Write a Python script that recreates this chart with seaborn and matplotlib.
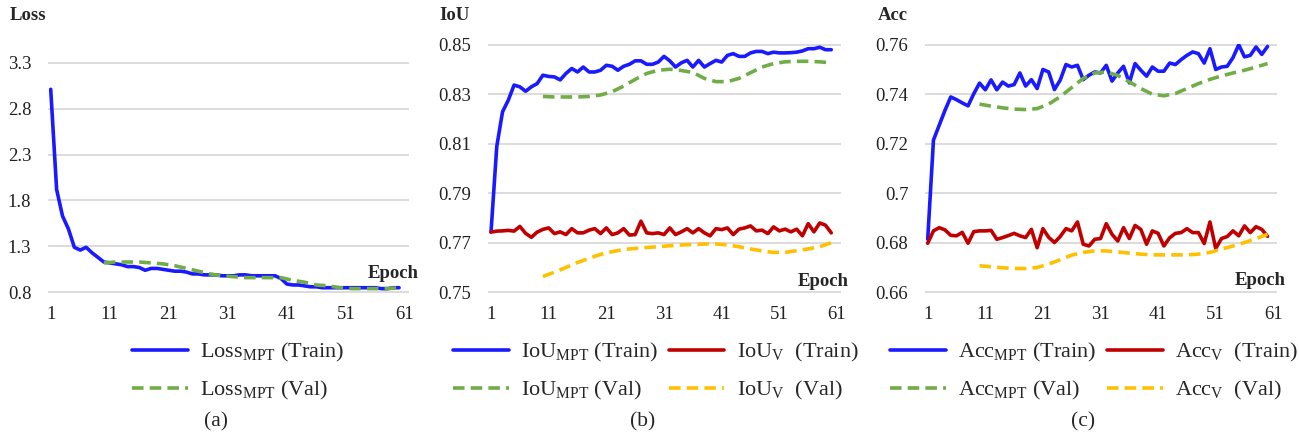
import numpy as np
import pandas as pd
import seaborn as sns
import matplotlib.pyplot as plt
from matplotlib.lines import Line2D

sns.set_style("white")
plt.rcParams["font.family"] = ["Liberation Serif", "DejaVu Serif"]
plt.rcParams["mathtext.fontset"] = "custom"
plt.rcParams["mathtext.rm"] = "Liberation Serif"
plt.rcParams["mathtext.it"] = "Liberation Serif:italic"
plt.rcParams["mathtext.bf"] = "Liberation Serif:bold"

# ---------------- data ----------------
epochs_train = list(range(1, 61))
epochs_val = list(range(10, 61, 2))

loss_mpt_train = [3.01, 1.92, 1.63, 1.49, 1.29, 1.26, 1.29, 1.23, 1.18, 1.13,
                  1.12, 1.11, 1.10, 1.08, 1.08, 1.07, 1.04, 1.06, 1.06, 1.05,
                  1.04, 1.03, 1.03, 1.02, 1.00, 1.00, 0.99, 0.99, 0.99, 0.98,
                  0.98, 0.98, 0.99, 0.99, 0.98, 0.98, 0.98, 0.98, 0.98, 0.95,
                  0.89, 0.88, 0.88, 0.87, 0.86, 0.86, 0.85, 0.85, 0.85, 0.85,
                  0.85, 0.85, 0.85, 0.85, 0.85, 0.85, 0.84, 0.84, 0.85, 0.85]
loss_mpt_val = [1.12, 1.13, 1.13, 1.13, 1.12, 1.11, 1.09, 1.06, 1.03, 1.00,
                0.98, 0.97, 0.96, 0.96, 0.96, 0.96, 0.93, 0.91, 0.88, 0.87,
                0.85, 0.84, 0.84, 0.84, 0.84, 0.85]

iou_mpt_train = [0.7743, 0.8089, 0.8229, 0.8276, 0.8337, 0.8330, 0.8312, 0.8330, 0.8343, 0.8377,
                 0.8372, 0.8370, 0.8358, 0.8384, 0.8404, 0.8390, 0.8410, 0.8390, 0.8390, 0.8397,
                 0.8417, 0.8413, 0.8397, 0.8413, 0.8421, 0.8435, 0.8435, 0.8421, 0.8421, 0.8430,
                 0.8453, 0.8435, 0.8410, 0.8427, 0.8437, 0.8410, 0.8437, 0.8410, 0.8424, 0.8437,
                 0.8430, 0.8457, 0.8464, 0.8453, 0.8453, 0.8467, 0.8473, 0.8473, 0.8464, 0.8470,
                 0.8467, 0.8467, 0.8468, 0.8470, 0.8475, 0.8484, 0.8484, 0.8490, 0.8480, 0.8480]
iou_v_train = [0.7743, 0.7747, 0.7748, 0.7750, 0.7747, 0.7766, 0.7738, 0.7722, 0.7743, 0.7754,
               0.7760, 0.7737, 0.7744, 0.7733, 0.7757, 0.7740, 0.7740, 0.7751, 0.7757, 0.7737,
               0.7760, 0.7733, 0.7740, 0.7757, 0.7731, 0.7733, 0.7787, 0.7740, 0.7737, 0.7740,
               0.7733, 0.7760, 0.7733, 0.7744, 0.7757, 0.7740, 0.7757, 0.7740, 0.7728, 0.7757,
               0.7753, 0.7760, 0.7733, 0.7755, 0.7760, 0.7768, 0.7748, 0.7751, 0.7737, 0.7764,
               0.7748, 0.7755, 0.7744, 0.7755, 0.7728, 0.7777, 0.7744, 0.7780, 0.7771, 0.7740]
iou_mpt_val = [0.8291, 0.8289, 0.8289, 0.8289, 0.8291, 0.8297, 0.8310, 0.8333, 0.8360, 0.8384,
               0.8397, 0.8401, 0.8396, 0.8388, 0.8364, 0.8351, 0.8351, 0.8364, 0.8387, 0.8410,
               0.8424, 0.8431, 0.8433, 0.8433, 0.8431, 0.8427]
iou_v_val = [0.7564, 0.7581, 0.7600, 0.7620, 0.7637, 0.7653, 0.7664, 0.7673, 0.7677, 0.7681,
             0.7684, 0.7688, 0.7691, 0.7693, 0.7695, 0.7695, 0.7691, 0.7684, 0.7675, 0.7667,
             0.7661, 0.7661, 0.7668, 0.7675, 0.7684, 0.7700]

acc_mpt_train = [0.6814, 0.7215, 0.7275, 0.7335, 0.7389, 0.7378, 0.7365, 0.7353, 0.7402, 0.7445,
                 0.7418, 0.7458, 0.7418, 0.7449, 0.7433, 0.7439, 0.7486, 0.7433, 0.7459, 0.7423,
                 0.7500, 0.7490, 0.7419, 0.7457, 0.7520, 0.7510, 0.7517, 0.7459, 0.7477, 0.7490,
                 0.7486, 0.7517, 0.7453, 0.7486, 0.7513, 0.7446, 0.7524, 0.7497, 0.7473, 0.7510,
                 0.7493, 0.7493, 0.7526, 0.7520, 0.7540, 0.7557, 0.7571, 0.7564, 0.7526, 0.7584,
                 0.7500, 0.7510, 0.7513, 0.7548, 0.7600, 0.7551, 0.7557, 0.7591, 0.7561, 0.7593]
acc_v_train = [0.6798, 0.6848, 0.6861, 0.6852, 0.6830, 0.6828, 0.6842, 0.6798, 0.6845, 0.6848,
               0.6848, 0.6850, 0.6814, 0.6821, 0.6829, 0.6838, 0.6828, 0.6821, 0.6854, 0.6780,
               0.6857, 0.6822, 0.6801, 0.6825, 0.6857, 0.6848, 0.6884, 0.6794, 0.6787, 0.6814,
               0.6817, 0.6877, 0.6834, 0.6807, 0.6861, 0.6817, 0.6870, 0.6854, 0.6794, 0.6848,
               0.6838, 0.6787, 0.6820, 0.6838, 0.6841, 0.6857, 0.6841, 0.6841, 0.6797, 0.6884,
               0.6777, 0.6817, 0.6825, 0.6848, 0.6828, 0.6868, 0.6841, 0.6865, 0.6854, 0.6826]
acc_mpt_val = [0.7360, 0.7352, 0.7345, 0.7340, 0.7338, 0.7342, 0.7360, 0.7390, 0.7427, 0.7464,
               0.7486, 0.7490, 0.7476, 0.7450, 0.7423, 0.7400, 0.7394, 0.7403, 0.7423, 0.7443,
               0.7460, 0.7474, 0.7486, 0.7497, 0.7510, 0.7524]
acc_v_val = [0.6707, 0.6703, 0.6699, 0.6696, 0.6696, 0.6700, 0.6714, 0.6731, 0.6750, 0.6761,
             0.6767, 0.6767, 0.6763, 0.6758, 0.6754, 0.6751, 0.6751, 0.6751, 0.6751, 0.6754,
             0.6761, 0.6774, 0.6787, 0.6801, 0.6817, 0.6834]

loss_ticks = [0.8, 1.3, 1.8, 2.3, 2.8, 3.3]
loss_ticklabels = ["0.8", "1.3", "1.8", "2.3", "2.8", "3.3"]
iou_ticks = [0.75, 0.77, 0.79, 0.81, 0.83, 0.85]
iou_ticklabels = ["0.75", "0.77", "0.79", "0.81", "0.83", "0.85"]
acc_ticks = [0.66, 0.68, 0.70, 0.72, 0.74, 0.76]
acc_ticklabels = ["0.66", "0.68", "0.7", "0.72", "0.74", "0.76"]
epoch_ticks = [1, 11, 21, 31, 41, 51, 61]

# ---------------- styling ----------------
BLUE = "#1A1AFF"
RED = "#C00000"
GREEN = "#70AD47"
YELLOW = "#FFC000"
GRID = "#D9D9D9"
LW = 2.6
DASH = (3.2, 1.7)
TICK_FS = 13.5
LABEL_FS = 13.5
LEG_FS = 16

W, H = 1299, 436
fig = plt.figure(figsize=(W / 100, H / 100), dpi=100)


def px_axes(x0, x1, ytop, ybot):
    return fig.add_axes([x0 / W, 1 - ybot / H, (x1 - x0) / W, (ybot - ytop) / H])


def style_axes(ax, xlim, ylim, yticks, yticklabels):
    span = ylim[1] - ylim[0]
    ax.set_xlim(*xlim)
    ax.set_ylim(ylim[0] - span * 0.003, ylim[1] + span * 0.003)
    ax.set_xticks(epoch_ticks)
    ax.set_xticklabels([str(t) for t in epoch_ticks])
    ax.set_yticks(yticks)
    ax.set_yticklabels(yticklabels)
    ax.tick_params(axis="both", length=0, labelsize=TICK_FS, colors="#222222")
    ax.tick_params(axis="y", pad=12)
    ax.tick_params(axis="x", pad=9)
    ax.yaxis.grid(True, color=GRID, linewidth=1.3)
    ax.xaxis.grid(False)
    for s in ax.spines.values():
        s.set_visible(False)
    ax.set_xlabel("")
    ax.set_ylabel("")


def draw(ax, x, y, color, dashed=False):
    sns.lineplot(x=x, y=y, ax=ax, color=color, linewidth=LW,
                 linestyle="--" if dashed else "-",
                 dashes=False, solid_capstyle="round", legend=False)
    if dashed:
        ax.lines[-1].set_dashes(DASH)


# (a) Loss
ax_a = px_axes(48, 409, 62, 293)
draw(ax_a, epochs_train, loss_mpt_train, BLUE)
draw(ax_a, epochs_val, loss_mpt_val, GREEN, dashed=True)
style_axes(ax_a, (0.54, 61.68), (0.8, 3.3), loss_ticks, loss_ticklabels)

# (b) IoU
ax_b = px_axes(488, 841, 44, 293)
draw(ax_b, epochs_train, iou_mpt_train, BLUE)
draw(ax_b, epochs_train, iou_v_train, RED)
draw(ax_b, epochs_val, iou_mpt_val, GREEN, dashed=True)
draw(ax_b, epochs_val, iou_v_val, YELLOW, dashed=True)
style_axes(ax_b, (0.48, 61.69), (0.75, 0.85), iou_ticks, iou_ticklabels)

# (c) Acc
ax_c = px_axes(925, 1277, 44, 293)
draw(ax_c, epochs_train, acc_mpt_train, BLUE)
draw(ax_c, epochs_train, acc_v_train, RED)
draw(ax_c, epochs_val, acc_mpt_val, GREEN, dashed=True)
draw(ax_c, epochs_val, acc_v_val, YELLOW, dashed=True)
style_axes(ax_c, (0.53, 61.64), (0.66, 0.76), acc_ticks, acc_ticklabels)


def ftext(x, y, s, **kw):
    fig.text(x / W, 1 - y / H, s, **kw)


# axis titles
ftext(28, 16, "Loss", fontsize=LABEL_FS, fontweight="bold", ha="center", va="center")
ftext(455, 16, "IoU", fontsize=LABEL_FS, fontweight="bold", ha="center", va="center")
ftext(893, 16, "Acc", fontsize=LABEL_FS, fontweight="bold", ha="center", va="center")
ftext(393, 274, "Epoch", fontsize=LABEL_FS, fontweight="bold", ha="center", va="center")
ftext(823, 281, "Epoch", fontsize=LABEL_FS, fontweight="bold", ha="center", va="center")
ftext(1260, 280, "Epoch", fontsize=LABEL_FS, fontweight="bold", ha="center", va="center")

# panel captions
ftext(216, 422, "(a)", fontsize=15.5, ha="center", va="center")
ftext(643, 422, "(b)", fontsize=15.5, ha="center", va="center")
ftext(1083, 422, "(c)", fontsize=15.5, ha="center", va="center")


def handle(color, dashed=False):
    h = Line2D([], [], color=color, linewidth=LW)
    if dashed:
        h.set_dashes(DASH)
    return h


def legend(x, handles, labels, ncol):
    fig.legend(handles, labels, loc="upper left",
               bbox_to_anchor=(x / W, 1 - 341 / H), ncol=ncol,
               frameon=False, fontsize=LEG_FS, handlelength=2.5,
               handletextpad=0.55, labelspacing=0.68, columnspacing=0.5,
               borderpad=0, borderaxespad=0)


legend(132,
       [handle(BLUE), handle(GREEN, True)],
       [r"Loss$_{\mathrm{MPT}}$ (Train)", r"Loss$_{\mathrm{MPT}}$ (Val)"], 1)
legend(453,
       [handle(BLUE), handle(GREEN, True), handle(RED), handle(YELLOW, True)],
       [r"IoU$_{\mathrm{MPT}}$ (Train)", r"IoU$_{\mathrm{MPT}}$ (Val)",
        r"IoU$_{\mathrm{V}}$  (Train)", r"IoU$_{\mathrm{V}}$  (Val)"], 2)
legend(890,
       [handle(BLUE), handle(GREEN, True), handle(RED), handle(YELLOW, True)],
       [r"Acc$_{\mathrm{MPT}}$ (Train)", r"Acc$_{\mathrm{MPT}}$ (Val)",
        r"Acc$_{\mathrm{V}}$  (Train)", r"Acc$_{\mathrm{V}}$  (Val)"], 2)

fig.savefig("out.png", dpi=100, facecolor="white")
